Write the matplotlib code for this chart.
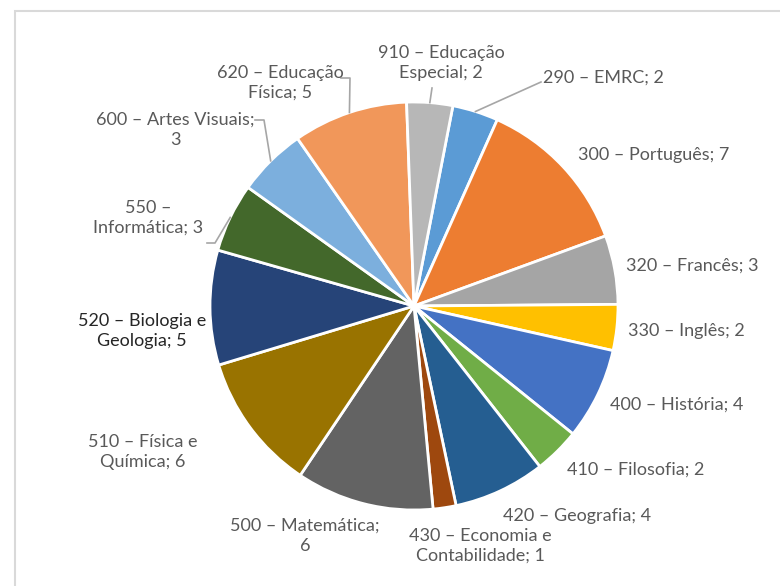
import numpy as np
import matplotlib
matplotlib.use('Agg')
import matplotlib.pyplot as plt
from matplotlib.patches import Rectangle

plt.rcParams['font.family'] = ['Lato', 'DejaVu Sans']

# dados: grupos de recrutamento e numero de docentes
labels = ['290 – EMRC', '300 – Português', '320 – Francês', '330 – Inglês',
          '400 – História', '410 – Filosofia', '420 – Geografia',
          '430 – Economia e\nContabilidade', '500 – Matemática;\n',
          '510 – Física e\nQuímica', '520 – Biologia e\nGeologia',
          '550 –\nInformática', '600 – Artes Visuais;\n',
          '620 – Educação\nFísica', '910 – Educação\nEspecial']
counts = [2, 7, 3, 2, 4, 2, 4, 1, 6, 6, 5, 3, 3, 5, 2]
colors = ['#5B9BD5', '#ED7D31', '#A5A5A5', '#FFC000', '#4472C4', '#70AD47',
          '#255E91', '#9E480E', '#636363', '#997300', '#264478', '#43682B',
          '#7CAFDD', '#F1975A', '#B7B7B7']

W, H = 780, 586
fig = plt.figure(figsize=(7.8, 5.86), dpi=100)
ax = fig.add_axes([0, 0, 1, 1])
ax.set_xlim(0, W)
ax.set_ylim(0, H)
ax.axis('off')

cx, cy, r = 414, H - 306, 204
wedges, _ = ax.pie(counts, colors=colors, startangle=79,
                   counterclock=False, center=(cx, cy), radius=r,
                   wedgeprops=dict(edgecolor='white', linewidth=2))
ax.set_xlim(0, W)
ax.set_ylim(0, H)
ax.set_aspect('equal')

# moldura do grafico
ax.add_patch(Rectangle((15, -20), W, H - 11 + 20, fill=False,
                       edgecolor='#d9d9d9', linewidth=1.5))

# posicoes dos rotulos (px, a partir do topo)
pos = [(603, 78), (654, 155), (692, 266), (686, 331), (677, 405), (636, 470),
       (577, 516), (480, 546), (305, 536), (143, 452), (142, 331), (148, 218),
       (175, 130), (280, 83), (441, 63)]
leaders = {0: [(541, 82)], 13: [(341, 78), (350, 78)], 12: [(255, 120), (264, 120)],
           11: [(207, 243), (215, 243)], 14: [(432, 88)]}

for i, (w, lab, n) in enumerate(zip(wedges, labels, counts)):
    if lab.endswith('\n'):
        txt = lab + str(n)
    else:
        txt = lab + '; ' + str(n)
    x, y = pos[i]
    col = '#262626' if i == 10 else '#595959'
    ax.text(x, H - y, txt, ha='center', va='center', multialignment='center',
            fontsize=13, color=col, linespacing=1.3)
    if i in leaders:
        ang = np.deg2rad((w.theta1 + w.theta2) / 2)
        ex, ey = cx + r * np.cos(ang), cy + r * np.sin(ang)
        pts = [(px, H - py) for px, py in leaders[i]] + [(ex, ey)]
        ax.plot([p[0] for p in pts], [p[1] for p in pts], color='#a6a6a6', lw=1.2)

fig.savefig('out.png', dpi=100)
